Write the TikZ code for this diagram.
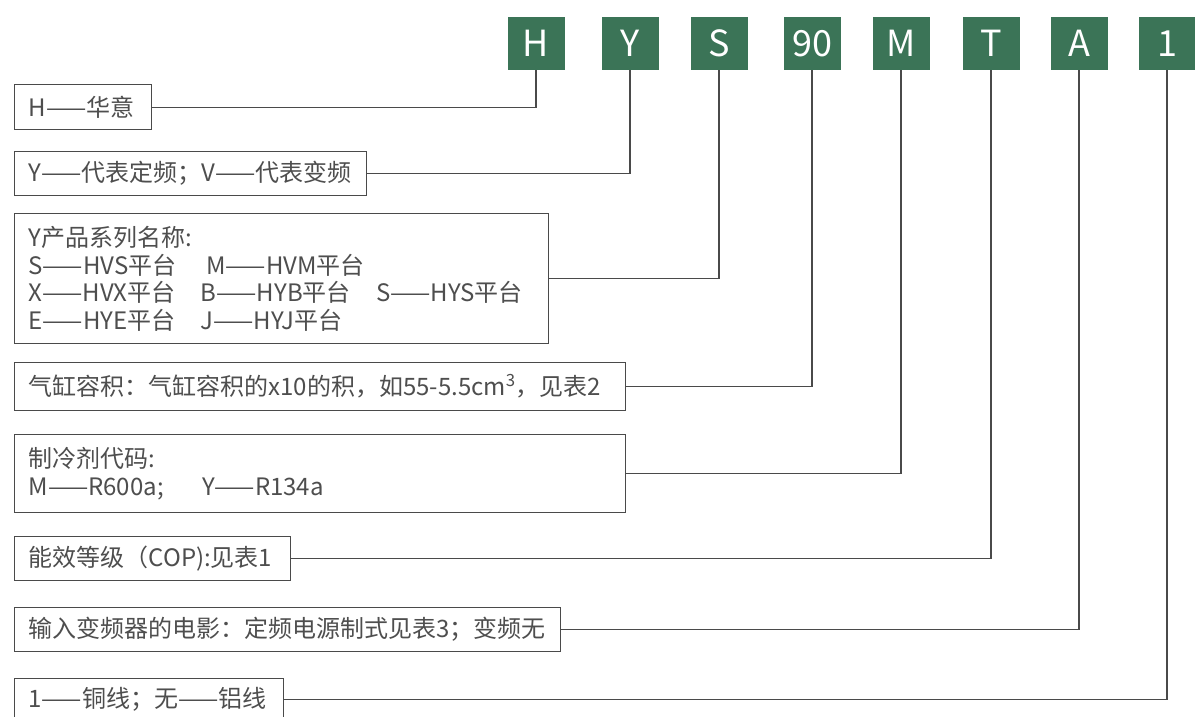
\documentclass[tikz,border=0pt]{standalone}
\usepackage{fontspec}
\setmainfont{Noto Sans CJK SC}
\usepackage{tikz}
\pgfdeclarelayer{edgelayer}
\pgfdeclarelayer{nodelayer}
\pgfsetlayers{edgelayer,nodelayer,main}
\definecolor{codegreen}{HTML}{3B7457}
\definecolor{textgrey}{HTML}{4E4E4E}
\definecolor{linegrey}{HTML}{4A4A4A}
\tikzstyle{codebox}=[rectangle, fill=codegreen, text=white, minimum width=57pt, minimum height=53pt, inner sep=0pt, font=\fontsize{36}{40}\selectfont]
\tikzstyle{descbox}=[rectangle, draw=linegrey, line width=1.3pt, fill=white, text=textgrey, anchor=north west, align=left, inner xsep=14pt, inner ysep=0pt, font=\fontsize{24}{27.5}\selectfont]
\tikzstyle{edge}=[draw=linegrey, line width=1.3pt]

\begin{document}
\begin{tikzpicture}[x=1pt, y=-1pt]
	\useasboundingbox (0,0) rectangle (1195,716);
	\begin{pgfonlayer}{nodelayer}

	%model code
		\node [style=codebox] (gH) at (536,43.5) {H};
		\node [style=codebox] (gY) at (630,43.5) {Y};
		\node [style=codebox] (gS) at (719,43.5) {S};
		\node [style=codebox] (g90) at (812,43.5) {90};
		\node [style=codebox] (gM) at (901,43.5) {M};
		\node [style=codebox] (gT) at (991,43.5) {T};
		\node [style=codebox] (gA) at (1079,43.5) {A};
		\node [style=codebox] (g1) at (1167,43.5) {1};

	%descriptions
		\node [style=descbox, text width=109pt, minimum height=45pt] (d1) at (14,84) {\mbox{H——华意}};
		\node [style=descbox, text width=324pt, minimum height=44pt] (d2) at (14,151) {\mbox{Y——代表定频；V——代表变频}};
		\node [style=descbox, text width=506pt, minimum height=130pt] (d3) at (14,213) {\mbox{Y产品系列名称:}\\\mbox{S——HVS平台\kern1.25em M——HVM平台}\\\mbox{X——HVX平台\kern1.05em B——HYB平台\kern1.05em S——HYS平台}\\\mbox{E——HYE平台\kern1.05em J——HYJ平台}};
		\node [style=descbox, text width=583pt, minimum height=48pt] (d4) at (14,362) {\mbox{气缸容积：气缸容积的x10的积，如55-5.5cm\textsuperscript{3}，见表2}};
		\node [style=descbox, text width=583pt, minimum height=78pt] (d5) at (14,434) {\mbox{制冷剂代码:}\\\mbox{M——R600a;\kern1.6em Y——R134a}};
		\node [style=descbox, text width=248pt, minimum height=44pt] (d6) at (14,536) {\mbox{能效等级（COP):见表1}};
		\node [style=descbox, text width=518pt, minimum height=44pt] (d7) at (14,607) {\mbox{输入变频器的电影：定频电源制式见表3；变频无}};
		\node [style=descbox, text width=241pt, minimum height=42pt] (d8) at (14,678) {\mbox{1——铜线；无——铝线}};

	\end{pgfonlayer}
	\begin{pgfonlayer}{edgelayer}

		%links
		\draw [style=edge] (d1.east) -| (gH.south);
		\draw [style=edge] (d2.east) -| (gY.south);
		\draw [style=edge] (d3.east) -| (gS.south);
		\draw [style=edge] (d4.east) -| (g90.south);
		\draw [style=edge] (d5.east) -| (gM.south);
		\draw [style=edge] (d6.east) -| (gT.south);
		\draw [style=edge] (d7.east) -| (gA.south);
		\draw [style=edge] (d8.east) -| (g1.south);

	\end{pgfonlayer}
\end{tikzpicture}
\end{document}
